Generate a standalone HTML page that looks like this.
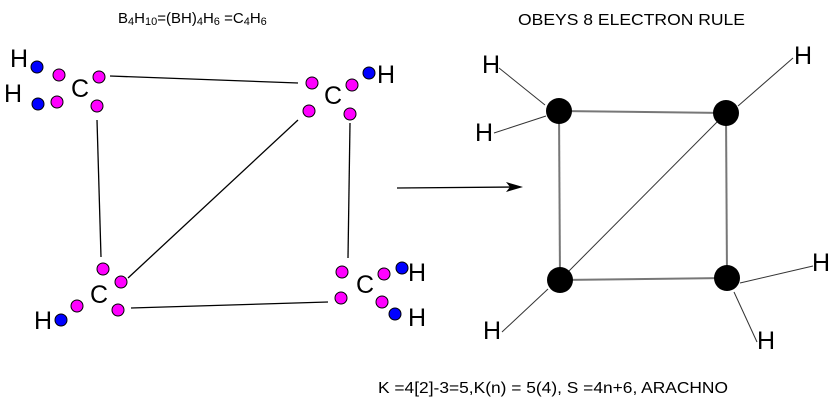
<!DOCTYPE html>
<html><head><style>html,body{margin:0;padding:0;background:#fff}svg{display:block}</style></head>
<body>
<svg width="839" height="407" viewBox="0 0 839 407" xmlns="http://www.w3.org/2000/svg" font-family="Liberation Sans, Arial, sans-serif">
<text x="118" y="23" font-size="15">B<tspan font-size="11" dy="2">4</tspan><tspan dy="-2">H</tspan><tspan font-size="11" dy="2">10</tspan><tspan dy="-2">=(BH)</tspan><tspan font-size="11" dy="2">4</tspan><tspan dy="-2">H</tspan><tspan font-size="11" dy="2">6</tspan><tspan dy="-2"> =C</tspan><tspan font-size="11" dy="2">4</tspan><tspan dy="-2">H</tspan><tspan font-size="11" dy="2">6</tspan></text>
<text x="518" y="25" font-size="16" textLength="227" lengthAdjust="spacingAndGlyphs">OBEYS 8 ELECTRON RULE</text>
<text x="378" y="393" font-size="16" textLength="350" lengthAdjust="spacingAndGlyphs">K =4[2]-3=5,K(n) = 5(4), S =4n+6, ARACHNO</text>
<g stroke="#000" stroke-width="1.3">
<line x1="110" y1="76" x2="298" y2="83"/>
<line x1="97" y1="120" x2="101" y2="257"/>
<line x1="298" y1="120" x2="128" y2="278"/>
<line x1="350" y1="123" x2="348" y2="258"/>
<line x1="131" y1="308" x2="328" y2="302"/>
<line x1="397" y1="188" x2="518" y2="187"/>
</g>
<path d="M523 187 L506 182 L510 187 L506 192 Z" fill="#000"/>
<g font-size="25">
<text x="10" y="67">H</text><text x="4" y="102">H</text>
<text x="71" y="97">C</text>
<text x="324" y="104">C</text><text x="377" y="83">H</text>
<text x="90" y="303">C</text><text x="34" y="329">H</text>
<text x="356" y="293">C</text><text x="408" y="281">H</text><text x="408" y="326">H</text>
</g>
<g stroke="#000" stroke-width="1">
<g fill="#ff00ff">
<circle cx="59" cy="75" r="6"/><circle cx="99" cy="77" r="6"/><circle cx="57" cy="102" r="6"/><circle cx="97" cy="106" r="6"/>
<circle cx="312" cy="83" r="6"/><circle cx="352" cy="85" r="6"/><circle cx="309" cy="111" r="6"/><circle cx="350" cy="114" r="6"/>
<circle cx="103" cy="269" r="6"/><circle cx="121" cy="282" r="6"/><circle cx="77" cy="306" r="6"/><circle cx="118" cy="310" r="6"/>
<circle cx="342" cy="272" r="6"/><circle cx="384" cy="274" r="6"/><circle cx="341" cy="298" r="6"/><circle cx="382" cy="302" r="6"/>
</g>
<g fill="#0000ff">
<circle cx="37" cy="67" r="6"/><circle cx="38" cy="104" r="6"/><circle cx="369" cy="73" r="6"/>
<circle cx="61" cy="320" r="6"/><circle cx="402" cy="268" r="6"/><circle cx="395" cy="314" r="6"/>
</g>
</g>
<g stroke="#777" stroke-width="2">
<line x1="559" y1="111" x2="726" y2="113"/>
<line x1="559" y1="111" x2="560" y2="280"/>
<line x1="726" y1="113" x2="727" y2="278"/>
<line x1="560" y1="280" x2="727" y2="278"/>
</g>
<g stroke="#333" stroke-width="1">
<line x1="560" y1="280" x2="726" y2="113"/>
<line x1="499" y1="68" x2="545" y2="105"/>
<line x1="494" y1="133" x2="546" y2="116"/>
<line x1="738" y1="106" x2="793" y2="58"/>
<line x1="740" y1="283" x2="813" y2="266"/>
<line x1="734" y1="292" x2="757" y2="342"/>
<line x1="548" y1="289" x2="502" y2="332"/>
</g>
<g fill="#000">
<circle cx="559" cy="111" r="13"/><circle cx="726" cy="113" r="13"/><circle cx="560" cy="280" r="13"/><circle cx="727" cy="278" r="13"/>
</g>
<g font-size="25">
<text x="482" y="73">H</text><text x="475" y="141">H</text><text x="794" y="64">H</text>
<text x="812" y="271">H</text><text x="757" y="349">H</text><text x="483" y="339">H</text>
</g>
</svg>
</body></html>
